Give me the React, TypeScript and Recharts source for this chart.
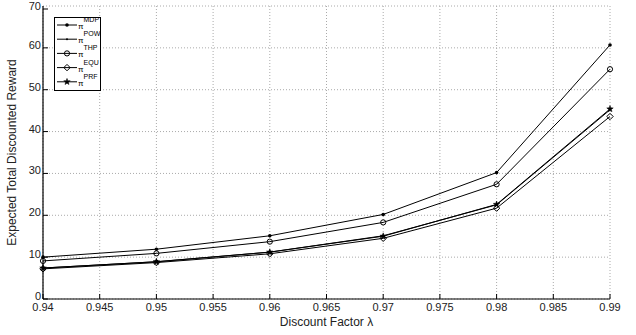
import { LineChart, Line, XAxis, YAxis, CartesianGrid } from 'recharts';

// discount factors and expected total discounted reward per policy
const lambdas = [0.94, 0.95, 0.96, 0.97, 0.98, 0.99];
const mdp = [10.0, 11.9, 15.1, 20.2, 30.2, 60.7];
const pow = [7.4, 8.9, 11.2, 15.1, 22.5, 45.2];
const thp = [9.1, 10.9, 13.7, 18.3, 27.4, 54.9];
const equ = [7.2, 8.7, 10.8, 14.5, 21.7, 43.6];
const prf = [7.4, 8.9, 11.2, 15.0, 22.6, 45.4];

const xTicks = [0.94, 0.945, 0.95, 0.955, 0.96, 0.965, 0.97, 0.975, 0.98, 0.985, 0.99];
const yTicks = [0, 10, 20, 30, 40, 50, 60, 70];

const series = [
  { key: 'MDP', values: mdp, marker: 'dot' },
  { key: 'POW', values: pow, marker: 'point' },
  { key: 'THP', values: thp, marker: 'circle' },
  { key: 'EQU', values: equ, marker: 'diamond' },
  { key: 'PRF', values: prf, marker: 'star' },
];

const data = lambdas.map((l, i) => {
  const row: any = { lambda: l };
  series.forEach((s) => (row[s.key] = s.values[i]));
  return row;
});

const FONT = '"Liberation Sans", Arial, sans-serif';

function marker(type: string, cx: number, cy: number, key?: any) {
  switch (type) {
    case 'dot':
      return <circle key={key} cx={cx} cy={cy} r={1.8} fill="#000" />;
    case 'point':
      return <circle key={key} cx={cx} cy={cy} r={1} fill="#000" />;
    case 'circle':
      return <circle key={key} cx={cx} cy={cy} r={2.6} fill="none" stroke="#000" strokeWidth={1} />;
    case 'diamond':
      return (
        <path key={key} d={`M${cx},${cy - 3.2}L${cx + 3.2},${cy}L${cx},${cy + 3.2}L${cx - 3.2},${cy}Z`}
          fill="none" stroke="#000" strokeWidth={1} />
      );
    default: {
      const pts: string[] = [];
      for (let k = 0; k < 10; k++) {
        const a = -Math.PI / 2 + (k * Math.PI) / 5;
        const r = k % 2 === 0 ? 3.4 : 1.4;
        pts.push(`${cx + r * Math.cos(a)},${cy + r * Math.sin(a)}`);
      }
      return <polygon key={key} points={pts.join(' ')} fill="#000" stroke="#000" strokeWidth={0.5} />;
    }
  }
}

const XTick = (props: any) => {
  const { x, y, payload } = props;
  return (
    <g>
      <line x1={x} x2={x} y1={y} y2={y - 5} stroke="#000" />
      <text x={x} y={y + 12} textAnchor="middle" fontSize={11} fontFamily={FONT} fill="#222">
        {String(payload.value)}
      </text>
    </g>
  );
};

const XTopTick = (props: any) => {
  const { x, y } = props;
  return <line x1={x} x2={x} y1={y} y2={y + 5} stroke="#000" />;
};

const YTick = (props: any) => {
  const { x, y, payload } = props;
  return (
    <g>
      <line x1={x} x2={x + 5} y1={y} y2={y} stroke="#000" />
      <text x={x - 2} y={y + 1} textAnchor="end" fontSize={11} fontFamily={FONT} fill="#222">
        {payload.value}
      </text>
    </g>
  );
};

const YRightTick = (props: any) => {
  const { x, y } = props;
  return <line x1={x} x2={x - 5} y1={y} y2={y} stroke="#000" />;
};

const LegendBox = () => (
  <svg width={48} height={75} style={{ display: 'block' }}>
    <rect x={0.5} y={0.5} width={46} height={73} fill="#fff" stroke="#000" />
    {series.map((s, i) => {
      const cy = 8 + i * 14.2;
      return (
        <g key={s.key}>
          <line x1={3} x2={23} y1={cy} y2={cy} stroke="#000" />
          {marker(s.marker, 13, cy)}
          <text x={24} y={cy + 4} fontSize={8} fontFamily={FONT} fill="#000">
            π
            <tspan dy={-7} fontSize={7}>{s.key}</tspan>
          </text>
        </g>
      );
    })}
  </svg>
);

export default function App() {
  return (
    <div style={{ position: 'absolute', left: 0, top: 0, width: 636, height: 335, background: '#fff' }}>
      <LineChart width={636} height={335} data={data} margin={{ top: 6, right: 26, bottom: 6, left: 0 }}>
        <CartesianGrid stroke="#aaa" strokeDasharray="1 2" />
        <XAxis
          dataKey="lambda"
          type="number"
          domain={[0.94, 0.99]}
          ticks={xTicks}
          height={30}
          tickSize={0}
          tickMargin={0}
          tick={<XTick />}
          axisLine={{ stroke: '#000', strokeWidth: 1.2 }}
          label={{
            content: (p: any) => {
              const vb = p.viewBox;
              return (
                <text x={vb.x + vb.width / 2} y={vb.y + 27} textAnchor="middle" fontSize={12} fontFamily={FONT} fill="#222">
                  Discount Factor λ
                </text>
              );
            },
          }}
        />
        <XAxis
          xAxisId="top"
          orientation="top"
          dataKey="lambda"
          type="number"
          domain={[0.94, 0.99]}
          ticks={xTicks}
          height={0}
          tickSize={0}
          tickMargin={0}
          tick={<XTopTick />}
          axisLine={{ stroke: '#000', strokeWidth: 1.2 }}
        />
        <YAxis
          type="number"
          domain={[0, 70]}
          ticks={yTicks}
          width={43}
          tickSize={0}
          tickMargin={0}
          tick={<YTick />}
          axisLine={{ stroke: '#000', strokeWidth: 1.2 }}
          label={{
            content: (p: any) => {
              const vb = p.viewBox;
              const cx = vb.x + 16;
              const cy = vb.y + vb.height / 2;
              return (
                <text x={cx} y={cy} transform={`rotate(-90 ${cx} ${cy})`} textAnchor="middle" fontSize={12} fontFamily={FONT} fill="#222">
                  Expected Total Discounted Reward
                </text>
              );
            },
          }}
        />
        <YAxis
          yAxisId="right"
          orientation="right"
          type="number"
          domain={[0, 70]}
          ticks={yTicks}
          width={0}
          tickSize={0}
          tickMargin={0}
          tick={<YRightTick />}
          axisLine={{ stroke: '#000', strokeWidth: 1.2 }}
        />
        {series.map((s) => (
          <Line
            key={s.key}
            dataKey={s.key}
            stroke="#000"
            strokeWidth={1}
            isAnimationActive={false}
            dot={(p: any) => marker(s.marker, p.cx, p.cy, `${s.key}-${p.index}`)}
            activeDot={false}
          />
        ))}
      </LineChart>
      <div style={{ position: 'absolute', left: 54, top: 17 }}>
        <LegendBox />
      </div>
    </div>
  );
}
